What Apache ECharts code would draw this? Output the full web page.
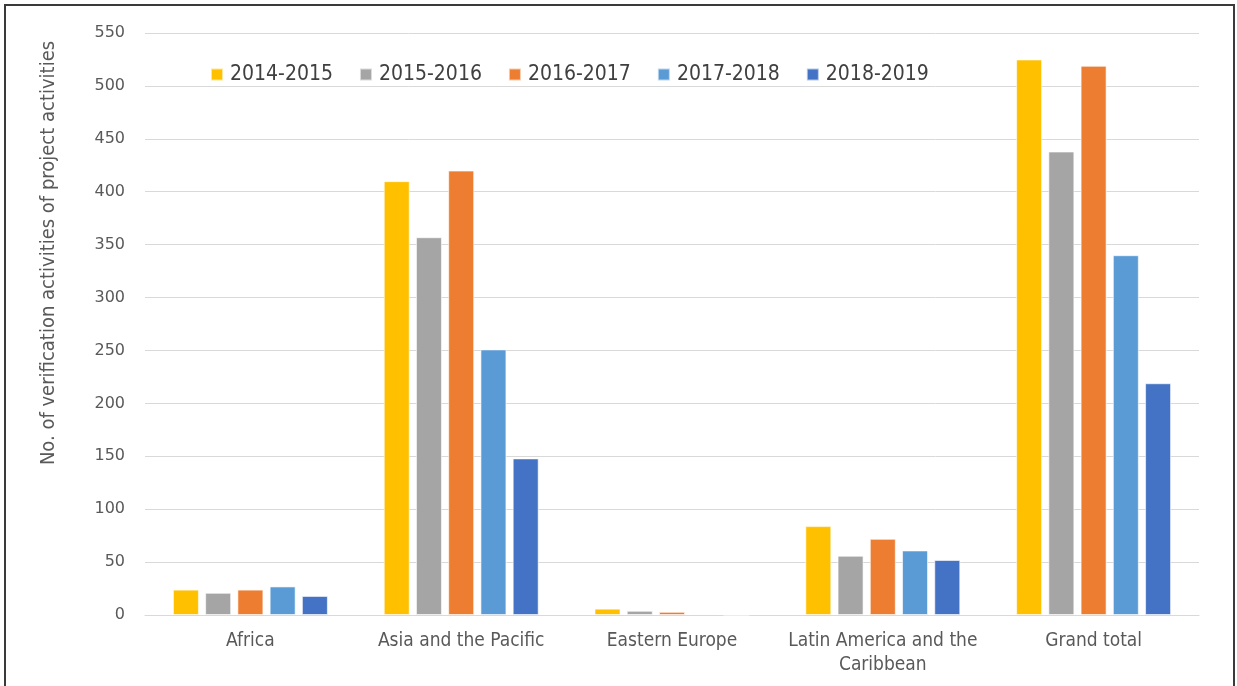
<!DOCTYPE html>
<html>
<head>
<meta charset="utf-8">
<script src="https://cdn.jsdelivr.net/npm/echarts@6/dist/echarts.min.js"></script>
<style>
  html, body { margin: 0; padding: 0; background: #fff; }
  #chart { width: 1237px; height: 686px; }
</style>
</head>
<body>
<div id="chart"></div>
<script>
// Regions on the category axis
const regions = ['Africa', 'Asia and the Pacific', 'Eastern Europe', 'Latin America and the\nCaribbean', 'Grand total'];

// Reporting periods (one series each)
const periods = ['2014-2015', '2015-2016', '2016-2017', '2017-2018', '2018-2019'];

// Verification activities per region, one array per period
const v2014_2015 = [24, 410, 6, 84, 525];
const v2015_2016 = [21, 357, 4, 56, 438];
const v2016_2017 = [24, 420, 3, 72, 519];
const v2017_2018 = [27, 251, 1, 61, 340];
const v2018_2019 = [18, 148, 0, 52, 219];

const seriesValues = [v2014_2015, v2015_2016, v2016_2017, v2017_2018, v2018_2019];
const colors = ['#FFC000', '#A5A5A5', '#ED7D31', '#5B9BD5', '#4472C4'];

const condensed = 'DejaVu Sans Condensed, DejaVu Sans, sans-serif';

const chart = echarts.init(document.getElementById('chart'), null, { renderer: 'canvas' });

chart.setOption({
  backgroundColor: '#ffffff',
  animation: false,
  color: colors,
  graphic: [{
    type: 'rect',
    shape: { x: 5, y: 5, width: 1229, height: 690 },
    style: { fill: 'none', stroke: '#3a3a3a', lineWidth: 2 },
    silent: true
  }],
  legend: {
    top: 59,
    left: 205,
    itemWidth: 12,
    itemHeight: 12,
    itemGap: 26,
    icon: 'rect',
    textStyle: { color: '#404040', fontSize: 21, fontFamily: condensed, padding: [0, 0, 0, 2] },
    data: periods
  },
  grid: { left: 145, right: 38, top: 33, bottom: 71, containLabel: false },
  xAxis: {
    type: 'category',
    data: regions,
    axisLine: { show: true, lineStyle: { color: '#D9D9D9', width: 1 } },
    axisTick: { show: false },
    axisLabel: {
      color: '#595959',
      fontSize: 19,
      fontFamily: condensed,
      margin: 14,
      lineHeight: 24,
      interval: 0
    }
  },
  yAxis: {
    type: 'value',
    min: 0,
    max: 550,
    interval: 50,
    name: 'No. of verification activities of project activities',
    nameLocation: 'middle',
    nameGap: 86,
    nameTextStyle: { color: '#595959', fontSize: 20, fontFamily: condensed, padding: [0, 0, 0, 142] },
    axisLine: { show: false },
    axisTick: { show: false },
    splitLine: { lineStyle: { color: '#D9D9D9', width: 1 } },
    axisLabel: {
      color: '#595959',
      fontSize: 16,
      fontFamily: 'DejaVu Sans, sans-serif',
      margin: 20
    }
  },
  series: periods.map((p, i) => ({
    name: p,
    type: 'bar',
    data: seriesValues[i],
    barWidth: 26,
    barGap: '24%',
    itemStyle: { color: colors[i], borderColor: 'rgba(255,255,255,0.6)', borderWidth: 1 }
  }))
});
</script>
</body>
</html>
